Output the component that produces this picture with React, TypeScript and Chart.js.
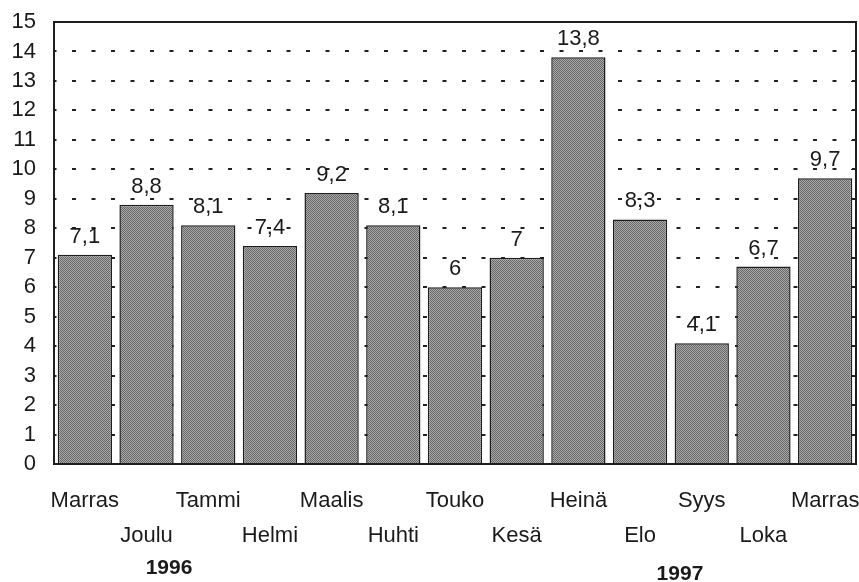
import React, { useEffect, useRef } from "react";
import { Chart, registerables } from "chart.js";

Chart.register(...registerables);

const categories: (string | string[])[] = [
  "Marras", ["", "Joulu"], "Tammi", ["", "Helmi"], "Maalis", ["", "Huhti"], "Touko",
  ["", "Kesä"], "Heinä", ["", "Elo"], "Syys", ["", "Loka"], "Marras",
];
const values: number[] = [7.1, 8.8, 8.1, 7.4, 9.2, 8.1, 6, 7, 13.8, 8.3, 4.1, 6.7, 9.7];
const yearLabels: string[] = ["1996", "1997"];

const FONT = "'Liberation Sans', Arial, Helvetica, sans-serif";

function makePattern(): CanvasPattern | string {
  const c = document.createElement("canvas");
  c.width = 4;
  c.height = 4;
  const g = c.getContext("2d");
  if (!g) return "#999";
  g.fillStyle = "#aaaaaa";
  g.fillRect(0, 0, 4, 4);
  g.fillStyle = "#666666";
  for (let y = 0; y < 4; y++) {
    for (let x = 0; x < 4; x++) {
      if ((x + y) % 2 === 0) g.fillRect(x, y, 1, 1);
    }
  }
  const p = g.createPattern(c, "repeat");
  return p || "#999";
}

const overlayPlugin = {
  id: "overlay",
  afterDatasetsDraw(chart: any) {
    const { ctx, chartArea } = chart;
    const { left, right, top, bottom } = chartArea;
    const yScale = chart.scales.y;
    ctx.save();
    ctx.strokeStyle = "#1e1e1e";
    ctx.lineWidth = 2;
    ctx.setLineDash([]);
    ctx.strokeRect(left, top, right - left, bottom - top);
    ctx.lineWidth = 1;
    for (let v = 1; v < 15; v++) {
      const y = Math.round(yScale.getPixelForValue(v)) + 0.5;
      ctx.beginPath();
      ctx.moveTo(right - 5, y);
      ctx.lineTo(right, y);
      ctx.stroke();
    }
    const meta = chart.getDatasetMeta(0);
    ctx.fillStyle = "#1a1a1a";
    ctx.font = `22px ${FONT}`;
    ctx.textAlign = "center";
    ctx.textBaseline = "alphabetic";
    meta.data.forEach((bar: any, i: number) => {
      const txt = String(values[i]).replace(".", ",");
      ctx.fillText(txt, bar.x, bar.y - 12);
    });
    ctx.font = `bold 21px ${FONT}`;
    ctx.textBaseline = "middle";
    const w = right - left;
    ctx.fillText(yearLabels[0], left + w * 0.1434, 568);
    ctx.fillText(yearLabels[1], left + w * 0.7805, 574);
    ctx.restore();
  },
};

export default function App() {
  const ref = useRef<HTMLCanvasElement | null>(null);
  useEffect(() => {
    if (!ref.current) return;
    const pattern = makePattern();
    const chart = new Chart(ref.current, {
      type: "bar",
      data: {
        labels: categories,
        datasets: [
          {
            data: values,
            backgroundColor: pattern as any,
            borderColor: "#1e1e1e",
            borderWidth: 1.5,
            barPercentage: 0.88,
            categoryPercentage: 1,
          },
        ],
      },
      options: {
        animation: false,
        responsive: true,
        maintainAspectRatio: false,
        layout: { padding: { top: 22, right: 3, left: 0, bottom: 0 } },
        plugins: { legend: { display: false }, tooltip: { enabled: false } },
        scales: {
          x: {
            grid: { display: false },
            border: { display: false },
            ticks: {
              autoSkip: false,
              maxRotation: 0,
              minRotation: 0,
              padding: 11,
              color: "#1a1a1a",
              font: { family: FONT, size: 22, lineHeight: 35 / 22 },
            },
            afterFit: (s: any) => {
              s.height = 118;
              s.paddingLeft = 0;
              s.paddingRight = 0;
            },
          },
          y: {
            min: 0,
            max: 15,
            ticks: {
              stepSize: 1,
              padding: 18,
              color: "#1a1a1a",
              font: { family: FONT, size: 22 },
            },
            grid: { color: "#222", lineWidth: 2, drawTicks: false },
            border: { display: false, dash: [4, 15.5], dashOffset: 1.5 },
            afterFit: (s: any) => {
              s.width = 54;
              s.paddingTop = 0;
              s.paddingBottom = 0;
            },
          },
        },
      },
      plugins: [overlayPlugin],
    });
    return () => chart.destroy();
  }, []);
  return (
    <div style={{ position: "absolute", left: 0, top: 0, width: 859, height: 582, background: "#fff" }}>
      <canvas ref={ref} />
    </div>
  );
}
